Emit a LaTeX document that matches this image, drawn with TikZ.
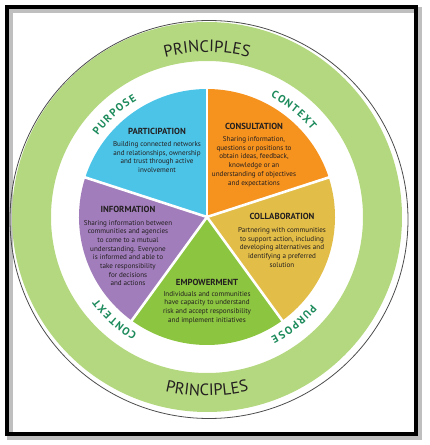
\documentclass[tikz,border=0pt]{standalone}
\usepackage{fontspec}
\setmainfont{PT Sans}
\usepackage{tikz}
\usetikzlibrary{calc, decorations.text}

\definecolor{ringgreen}{HTML}{B4D87F}
\definecolor{labelgreen}{HTML}{1C8A5B}
\definecolor{partblue}{HTML}{4CC4E8}
\definecolor{consorange}{HTML}{F6921E}
\definecolor{collgold}{HTML}{E2BD48}
\definecolor{empgreen}{HTML}{8CC540}
\definecolor{infpurple}{HTML}{A17DBB}
\definecolor{ink}{HTML}{231F20}

\begin{document}
\begin{tikzpicture}[
    x = 1pt, y = 1pt,
    wedge/.style = {draw=white, line width=2.6pt, line join=round},
    wedgetitle/.style = {font=\fontsize{8.8}{10}\selectfont\bfseries, text=ink, inner sep=0pt},
    wedgetext/.style = {font=\fontsize{7.1}{8.7}\selectfont, text=ink, align=center, inner sep=0pt},
    ringlabel/.style = {font=\fontsize{10.8}{11}\selectfont\bfseries, text=labelgreen, inner sep=0pt},
    principles/.style = {decorate, decoration={text along path, text align=center,
      text={|\fontsize{16.5}{17}\selectfont\color{ink}|PRINCIPLES}}}
    ]
    \useasboundingbox (0,0) rectangle (429,445);
    \coordinate (C) at (207,228);

    \draw[black!25, line width=6pt] (10,8) rectangle (419,435);
    \draw[line width=4pt] (7,11) rectangle (416,438);

    \fill[ringgreen, even odd rule] (C) circle[radius=195] (C) circle[radius=156];
    \draw[black!70, line width=0.8pt] (209,225.5) circle[radius=199];

    \fill[partblue]   (C) -- ++(90:128)   arc[start angle=90,   end angle=162,  radius=128] -- cycle;
    \fill[consorange] (C) -- ++(18:128)   arc[start angle=18,   end angle=90,   radius=128] -- cycle;
    \fill[collgold]   (C) -- ++(-54:128)  arc[start angle=-54,  end angle=18,   radius=128] -- cycle;
    \fill[empgreen]   (C) -- ++(-126:128) arc[start angle=-126, end angle=-54,  radius=128] -- cycle;
    \fill[infpurple]  (C) -- ++(162:128)  arc[start angle=162,  end angle=234,  radius=128] -- cycle;
    \foreach \a in {90,18,-54,-126,162}
      \draw[wedge] (C) -- ++(\a:129);

    \node[wedgetitle] (parttitle) at (157,314) {PARTICIPATION};
    \node[wedgetext]  (parttext)  at (157,288) {Building connected networks\\and relationships, ownership\\and trust through active\\involvement};
    \node[wedgetitle] (constitle) at (254,319) {CONSULTATION};
    \node[wedgetext]  (constext)  at (254,283.5) {Sharing information,\\questions or positions to\\obtain ideas, feedback,\\knowledge or an\\understanding of objectives\\and expectations};
    \node[wedgetitle] (inftitle)  at (128,236) {INFORMATION};
    \node[wedgetext]  (inftext)   at (128,192) {Sharing information between\\communities and agencies\\to come to a mutual\\understanding. Everyone\\is informed and able to\\take responsibility\\for decisions\\and actions};
    \node[wedgetitle] (colltitle) at (282,229) {COLLABORATION};
    \node[wedgetext]  (colltext)  at (282,197.5) {Partnering with communities\\to support action, including\\developing alternatives and\\identifying a preferred\\solution};
    \node[wedgetitle] (emptitle)  at (207,163) {EMPOWERMENT};
    \node[wedgetext]  (emptext)   at (207,137.5) {Individuals and communities\\have capacity to understand\\risk and accept responsibility\\and implement initiatives};

    \foreach \base/\letters [count=\k] in {132/{P,U,R,P,O,S,E}, 51/{C,O,N,T,E,X,T},
        228/{C,O,N,T,E,X,T}, -51/{P,U,R,P,O,S,E}} {
      \foreach \ch [count=\i] in \letters {
        \pgfmathsetmacro\ang{\base+9.9-(\i-1)*3.3}
        \node[ringlabel, rotate=\ang-90] (lbl\k\i) at ($(C)+(\ang:140)$) {\ch};
      }
    }

    \path[principles, shift={(C)}] (125:165) arc[start angle=125, end angle=55, radius=165];
    \path[principles, shift={(C)}] (235:179) arc[start angle=235, end angle=305, radius=179];
\end{tikzpicture}
\end{document}
